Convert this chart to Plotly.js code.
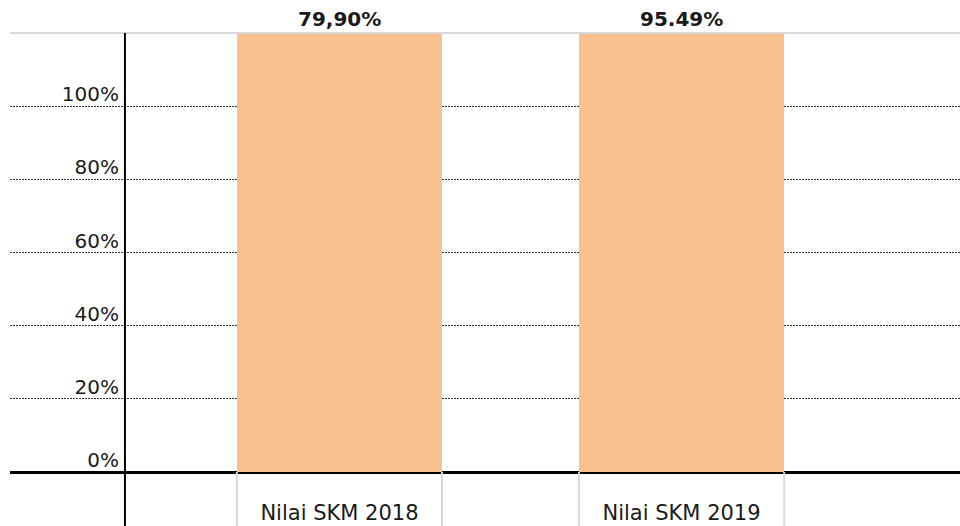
<!DOCTYPE html>
<html>
<head>
<meta charset="utf-8">
<script src="https://cdn.plot.ly/plotly-3.0.1.min.js"></script>
<style>html,body{margin:0;padding:0;background:#fff;}#chart{width:960px;height:526px;}</style>
</head>
<body>
<div id="chart"></div>
<script>
// Data (values entered as plain numbers on a percent axis, so bars overflow the 0-120% range)
var categories = ["Nilai SKM 2018", "Nilai SKM 2019"];
var values = [79.90, 95.49];
var valueLabels = ["79,90%", "95.49%"];
var tickValues = [0, 0.2, 0.4, 0.6, 0.8, 1.0];
var tickLabels = ["0%", "20%", "40%", "60%", "80%", "100%"];
var yRange = [0, 1.2];
var xRange = [-0.963, 1.814];
var barWidth = 0.6;

var font = "DejaVu Sans, Verdana, sans-serif";

var trace = {
  type: "bar",
  x: categories,
  y: values,
  width: barWidth,
  marker: {color: "#F8BF8F", line: {width: 0}},
  hoverinfo: "skip"
};

var annotations = categories.map(function(c, i) {
  return {
    x: c, y: yRange[1], xref: "x", yref: "y",
    text: "<b>" + valueLabels[i] + "</b>",
    showarrow: false, yanchor: "bottom", yshift: 0,
    font: {family: font, size: 20, color: "#1a1a1a"}
  };
});

var shapes = [
  // top border line
  {type: "line", xref: "paper", yref: "paper", x0: 0, x1: 1, y0: 1, y1: 1,
   line: {color: "#d9d9d9", width: 2}},
  // vertical value axis line extending below the category baseline
  {type: "line", xref: "paper", yref: "paper", x0: 0.121, x1: 0.121, y0: -0.13, y1: 1,
   line: {color: "#000", width: 2}}
];
categories.forEach(function(c, i) {
  [-1, 1].forEach(function(s) {
    shapes.push({type: "line", xref: "x", yref: "paper",
      x0: i + s * barWidth / 2, x1: i + s * barWidth / 2, y0: -0.13, y1: 0,
      line: {color: "#d9d9d9", width: 2}});
  });
});

var layout = {
  width: 960, height: 526,
  margin: {l: 10, r: 0, t: 33, b: 54},
  paper_bgcolor: "#fff", plot_bgcolor: "#fff",
  showlegend: false,
  bargap: 0,
  xaxis: {
    type: "category", range: xRange, domain: [0, 1],
    showgrid: false, zeroline: false,
    showline: true, linecolor: "#000", linewidth: 1.5,
    ticks: "", ticklabelstandoff: 21,
    tickfont: {family: font, size: 21, color: "#1a1a1a"}
  },
  yaxis: {
    range: yRange, anchor: "free", position: 0.121,
    tickvals: tickValues, ticktext: tickLabels,
    showgrid: true, gridcolor: "#333", gridwidth: 1, griddash: "2px,1px",
    zeroline: true, zerolinecolor: "#000", zerolinewidth: 1.5,
    showline: false, ticks: "",
    ticklabelstandoff: 6, ticklabelshift: -12,
    tickfont: {family: font, size: 20, color: "#1a1a1a"}
  },
  annotations: annotations,
  shapes: shapes
};

Plotly.newPlot("chart", [trace], layout, {staticPlot: true, displayModeBar: false});
</script>
</body>
</html>
